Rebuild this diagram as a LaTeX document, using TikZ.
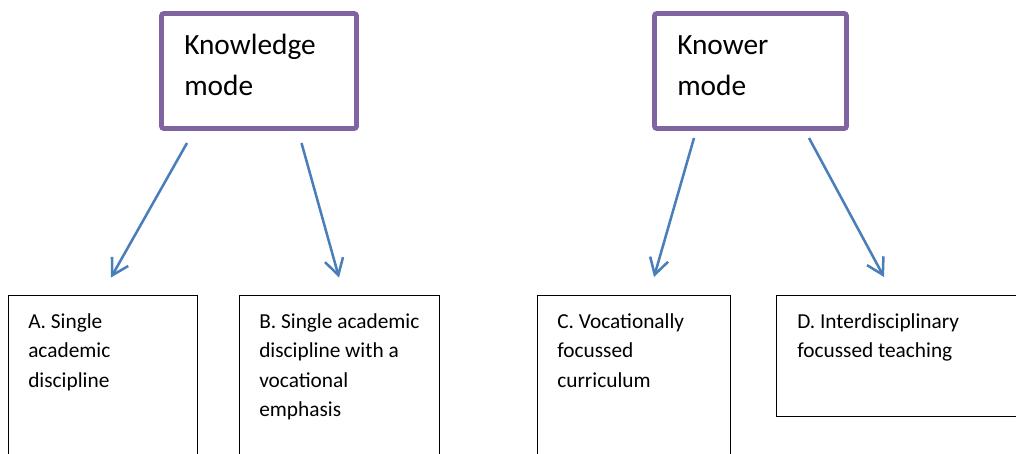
\documentclass[tikz,border=0pt]{standalone}
\usepackage{fontspec}
\setmainfont{Carlito}
\usetikzlibrary{arrows.meta}

\definecolor{modepurple}{HTML}{8064A2}
\definecolor{linkblue}{HTML}{4A7EBB}

\begin{document}
\begin{tikzpicture}[x=0.75pt, y=-0.75pt, >={Straight Barb[length=12pt,width=14pt]}]

\tikzset{
  mode/.style={draw=modepurple, line width=3.4pt, rounded corners=1.5pt, minimum height=86.25pt, inner sep=0pt},
  modetext/.style={anchor=base west, align=left, inner sep=0pt, font=\fontsize{22}{30.5}\selectfont},
  route/.style={draw=black, line width=0.8pt, inner sep=0pt},
  routetext/.style={anchor=base west, align=left, inner sep=0pt, font=\fontsize{16}{22.2}\selectfont},
  link/.style={->, linkblue, line width=1.9pt}
}

\useasboundingbox (0,0) rectangle (1016,453);

% Knowledge mode (text placed by its last baseline)
\node[mode, minimum width=146.25pt] (knowledge) at (259,71) {};
\node[modetext] (knowledgetext) at (184,95.5) {Knowledge\\mode};

% Knower mode
\node[mode, minimum width=144pt] (knower) at (750.5,71) {};
\node[modetext] (knowertext) at (677,95.5) {Knower\\mode};

% Routes
\node[route, minimum width=141.75pt, minimum height=134.6pt] (single) at (103,385.25) {};
\node[routetext] (singletext) at (28,387.2) {A. Single\\academic\\discipline};

\node[route, minimum width=150pt, minimum height=134.6pt] (vocemph) at (339.5,385.25) {};
\node[routetext] (vocemphtext) at (259,416.8) {B. Single academic\\discipline with a\\vocational\\emphasis};

\node[route, minimum width=144.75pt, minimum height=134.6pt] (voccurr) at (634,385.25) {};
\node[routetext] (voccurrtext) at (557,387.2) {C. Vocationally\\focussed\\curriculum};

\node[route, minimum width=190.1pt, minimum height=90.75pt] (inter) at (903.25,356) {};
\node[routetext] (intertext) at (797,357.6) {D. Interdisciplinary\\focussed teaching};

% Arrow ends
\coordinate (k1) at (187,143);
\coordinate (k2) at (301.5,143);
\coordinate (w1) at (694,138);
\coordinate (w2) at (809,138);
\coordinate (a1) at (111,277.5);
\coordinate (b1) at (339,277.5);
\coordinate (c1) at (654,277);
\coordinate (d1) at (884,277);

\draw[link] (k1) -- (a1);
\draw[link] (k2) -- (b1);
\draw[link] (w1) -- (c1);
\draw[link] (w2) -- (d1);

\end{tikzpicture}
\end{document}
